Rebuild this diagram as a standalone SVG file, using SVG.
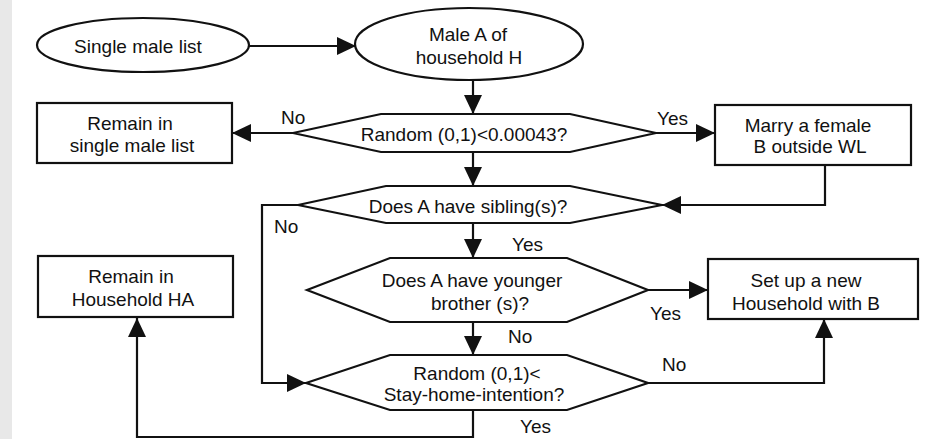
<svg xmlns="http://www.w3.org/2000/svg" width="925" height="439" viewBox="0 0 925 439">
<style>
.s{fill:#fff;stroke:#111;stroke-width:2.2}
.c{fill:none;stroke:#111;stroke-width:2.2}
text{font-family:"Liberation Sans",Arial,Helvetica,sans-serif;font-size:19px;fill:#111;text-anchor:middle}
.l{text-anchor:start}
</style>
<defs>
<marker id="ah" markerUnits="userSpaceOnUse" markerWidth="20" markerHeight="20" refX="19" refY="9" orient="auto">
<path d="M0,0 L19,9 L0,18 z" fill="#111"/>
</marker>
</defs>
<rect x="0" y="0" width="925" height="439" fill="#fff"/>
<rect x="0" y="0" width="12" height="439" fill="#e8e8e8"/>

<g id="connectors">
<path class="c" d="M249,46 L356,46" marker-end="url(#ah)"/>
<path class="c" d="M473,80 L473,114" marker-end="url(#ah)"/>
<path class="c" d="M293,133 L232,133" marker-end="url(#ah)"/>
<path class="c" d="M656,133 L715,133" marker-end="url(#ah)"/>
<path class="c" d="M473,152 L473,186" marker-end="url(#ah)"/>
<path class="c" d="M825,165 L825,205 L662,205" marker-end="url(#ah)"/>
<path class="c" d="M298,205 L262,205 L262,383 L306,383" marker-end="url(#ah)"/>
<path class="c" d="M473,223 L473,258" marker-end="url(#ah)"/>
<path class="c" d="M648,290 L708,290" marker-end="url(#ah)"/>
<path class="c" d="M473,322 L473,355" marker-end="url(#ah)"/>
<path class="c" d="M648,383 L824,383 L824,319" marker-end="url(#ah)"/>
<path class="c" d="M473,410 L473,437 L137,437 L137,318" marker-end="url(#ah)"/>
<text class="l" x="281" y="124">No</text>
<text class="l" x="657" y="125">Yes</text>
<text class="l" x="274" y="233">No</text>
<text class="l" x="512" y="251">Yes</text>
<text class="l" x="650" y="320">Yes</text>
<text class="l" x="508" y="343">No</text>
<text class="l" x="662" y="371">No</text>
<text class="l" x="520" y="433">Yes</text>
</g>

<g id="single-male-list">
<ellipse class="s" cx="143" cy="45" rx="106" ry="27"/>
<text x="138" y="53">Single male list</text>
</g>

<g id="male-a">
<ellipse class="s" cx="469" cy="44" rx="114" ry="36"/>
<text x="468" y="41">Male A of</text>
<text x="469" y="64">household H</text>
</g>

<g id="random-check">
<polygon class="s" points="293,133 381,114 570,114 656,133 570,152 381,152"/>
<text x="464" y="141">Random (0,1)&lt;0.00043?</text>
</g>

<g id="remain-single">
<rect class="s" x="37" y="103" width="195" height="60"/>
<text x="130" y="130">Remain in</text>
<text x="132" y="152">single male list</text>
</g>

<g id="marry-female">
<rect class="s" x="715" y="105" width="196" height="60"/>
<text x="808" y="132">Marry a female</text>
<text x="810" y="153">B outside WL</text>
</g>

<g id="siblings">
<polygon class="s" points="298,205 386,186 570,186 662,205 570,223 386,223"/>
<text x="468" y="213">Does A have sibling(s)?</text>
</g>

<g id="younger-brother">
<polygon class="s" points="307,290 390,258 567,258 648,290 567,322 390,322"/>
<text x="472" y="287">Does A have younger</text>
<text x="480" y="310">brother (s)?</text>
</g>

<g id="new-household">
<rect class="s" x="708" y="259" width="210" height="60"/>
<text x="806" y="287">Set up a new</text>
<text x="806" y="310">Household with B</text>
</g>

<g id="stay-home">
<polygon class="s" points="306,383 390,355 567,355 648,383 567,410 390,410"/>
<text x="477" y="380">Random (0,1)&lt;</text>
<text x="474" y="401">Stay-home-intention?</text>
</g>

<g id="remain-household">
<rect class="s" x="38" y="256" width="195" height="61"/>
<text x="131" y="283">Remain in</text>
<text x="133" y="306">Household HA</text>
</g>
</svg>
